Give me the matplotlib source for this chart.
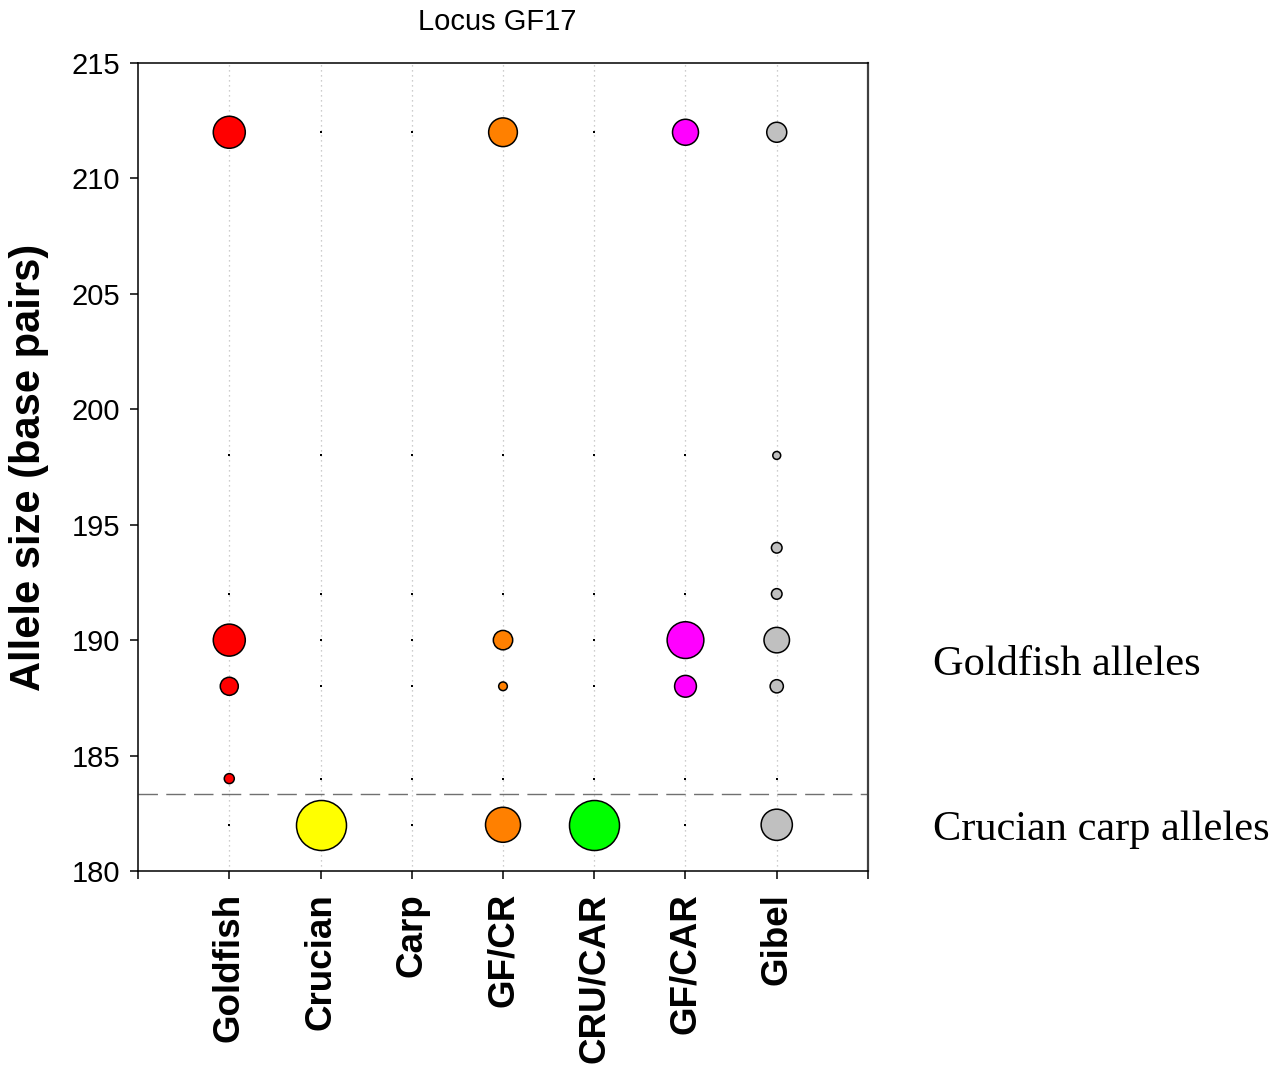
import numpy as np
import matplotlib
matplotlib.use("Agg")
import matplotlib.pyplot as plt

# allele sizes (bp) scored at locus GF17
alleles = [212, 198, 194, 192, 190, 188, 184, 182]

groups = ["Goldfish", "Crucian", "Carp", "GF/CR", "CRU/CAR", "GF/CAR", "Gibel"]
group_colors = ["#FF0000", "#FFFF00", "#000000", "#FF8000", "#00FF00", "#FF00FF", "#C0C0C0"]

# allele frequencies per group (nan = allele not scored in that group)
nan = np.nan
freq_goldfish = [0.41, 0.0, nan, 0.0, 0.41, 0.13, 0.04, 0.0]
freq_crucian = [0.0, 0.0, nan, 0.0, 0.0, 0.0, 0.0, 1.0]
freq_carp = [0.0, 0.0, nan, 0.0, 0.0, 0.0, 0.0, 0.0]
freq_gf_cr = [0.33, 0.0, nan, 0.0, 0.15, 0.03, 0.0, 0.49]
freq_cru_car = [0.0, 0.0, nan, 0.0, 0.0, 0.0, 0.0, 1.0]
freq_gf_car = [0.27, 0.0, nan, 0.0, 0.54, 0.19, 0.0, 0.0]
freq_gibel = [0.16, 0.025, 0.045, 0.045, 0.26, 0.07, 0.0, 0.39]

freqs = [freq_goldfish, freq_crucian, freq_carp, freq_gf_cr,
         freq_cru_car, freq_gf_car, freq_gibel]

divider = 183.35
y_ticks = [180, 185, 190, 195, 200, 205, 210, 215]

fig = plt.figure(figsize=(12.84, 10.68), dpi=100)
ax = fig.add_axes([0.1075, 0.1845, 0.5685, 0.7565])

full_size = 1296.0  # marker area (pt^2) for a frequency of 1

for i, (f, col) in enumerate(zip(freqs, group_colors)):
    xpos = i + 1
    ax.axvline(xpos, color="#bdbdbd", lw=0.9, ls=(0, (1, 3)), zorder=0)
    f = np.asarray(f, dtype=float)
    y = np.asarray(alleles, dtype=float)
    present = f > 0
    absent = f == 0
    ax.scatter(np.full(absent.sum(), xpos), y[absent], s=3, marker="s",
               color="black", linewidths=0, zorder=2)
    ax.scatter(np.full(present.sum(), xpos), y[present], s=f[present] * full_size,
               color=col, edgecolors="black", linewidths=1.1, zorder=3)

ax.axhline(divider, color="#707070", lw=1.0, dashes=(14, 6), zorder=1)

ax.set_xlim(0, 8)
ax.set_ylim(180, 215)
ax.set_yticks(y_ticks)
ax.set_xticks(range(0, 9))
ax.set_xticklabels([""] + groups + [""], rotation=90, fontsize=26.5,
                   fontweight="bold", family="Liberation Sans")
for lab in ax.get_yticklabels():
    lab.set_fontsize(21)
    lab.set_family("Liberation Sans")
ax.tick_params(axis="both", direction="out", length=6, width=1.1, colors="black")
ax.tick_params(axis="x", pad=10)
ax.tick_params(axis="y", pad=7)
for sp in ax.spines.values():
    sp.set_linewidth(1.1)
ax.spines["right"].set_color("#404040")
ax.spines["right"].set_linewidth(1.6)

ax.set_ylabel("Allele size (base pairs)", fontsize=30, fontweight="bold",
              family="Liberation Sans", labelpad=16)
ax.set_title("Locus GF17", fontsize=21, family="Liberation Sans", pad=24, x=0.492)

ax.text(8.71, 188.95, "Goldfish alleles", fontsize=30.5, family="Liberation Serif",
        va="center", ha="left", clip_on=False)
ax.text(8.71, 181.8, "Crucian carp alleles", fontsize=30.5, family="Liberation Serif",
        va="center", ha="left", clip_on=False)

fig.savefig("out.png", dpi=100)
